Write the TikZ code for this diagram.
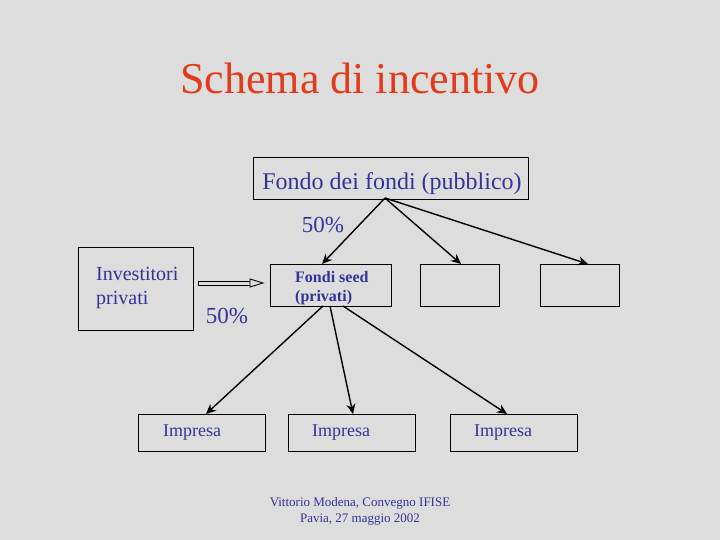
\documentclass[tikz,border=0pt]{standalone}
\usepackage{fontspec}
\setmainfont{Liberation Serif}
\usetikzlibrary{arrows.meta}
\definecolor{bg}{HTML}{DDDDDD}
\definecolor{txtblue}{HTML}{333399}
\definecolor{titlered}{HTML}{E23A1A}
\begin{document}
\begin{tikzpicture}[x=1pt,y=-1pt,
  box/.style={draw=black,line width=1pt,inner sep=0pt,anchor=north west},
  lbl/.style={text=txtblue,inner sep=0pt},
  arr/.style={draw=black,line width=1.4pt,-{Stealth[length=10pt,width=9pt]}}]
\fill[bg] (0,0) rectangle (720,540);
\useasboundingbox (0,0) rectangle (720,540);
\node[text=titlered,font=\fontsize{44}{48}\selectfont,inner sep=0pt] (title) at (360,78) {Schema di incentivo};
% boxes
\node[box,minimum width=275,minimum height=42] (fdf) at (253,157) {};
\node[lbl,font=\fontsize{24}{26}\selectfont] (fdft) at (392,184) {Fondo dei fondi (pubblico)};
\node[box,minimum width=115,minimum height=83] (inv) at (78,247) {};
\node[lbl,font=\fontsize{20}{24}\selectfont,align=left,anchor=north west] (invt) at (96,267) {Investitori\\privati};
\node[box,minimum width=121,minimum height=42] (seed) at (270,264) {};
\node[lbl,font=\fontsize{16}{19}\selectfont\bfseries,align=left,anchor=north west] (seedt) at (295,271) {Fondi seed\\(privati)};
\node[box,minimum width=79,minimum height=42] (b3) at (420,264) {};
\node[box,minimum width=79,minimum height=42] (b4) at (540,264) {};
\node[box,minimum width=127,minimum height=37] (i1) at (138,414) {};
\node[box,minimum width=127,minimum height=37] (i2) at (288,414) {};
\node[box,minimum width=127,minimum height=37] (i3) at (450,414) {};
\node[lbl,font=\fontsize{18}{20}\selectfont] (i1t) at (192,433) {Impresa};
\node[lbl,font=\fontsize{18}{20}\selectfont] (i2t) at (341,433) {Impresa};
\node[lbl,font=\fontsize{18}{20}\selectfont] (i3t) at (503,433) {Impresa};
% labels
\node[lbl,font=\fontsize{23}{24}\selectfont] (p1) at (323,225) {50\%};
\node[lbl,font=\fontsize{23}{24}\selectfont] (p2) at (227,316) {50\%};
% arrows
\coordinate (s0) at (385,198);
\draw[arr] (s0) -- (322,264);
\draw[arr] (s0) -- (461,264);
\draw[arr] (s0) -- (588,264);
\draw[arr] (323,306) -- (206,414);
\draw[arr] (330,306) -- (353,414);
\draw[arr] (343,306) -- (507,414);
% double arrow (drawn directly)
\coordinate (da) at (198,283);
\coordinate (db) at (263,283);
\draw[line width=0.9pt] (198,281) -- (250,281) (198,285) -- (250,285) (198,281) -- (198,285);
\draw[line width=0.9pt,fill=bg] (250,279) -- (db) -- (250,287) -- cycle;
% footer
\node[lbl,font=\fontsize{13}{16}\selectfont,align=center] (foot) at (360,511) {Vittorio Modena, Convegno IFISE\\Pavia, 27 maggio 2002};
\end{tikzpicture}
\end{document}
